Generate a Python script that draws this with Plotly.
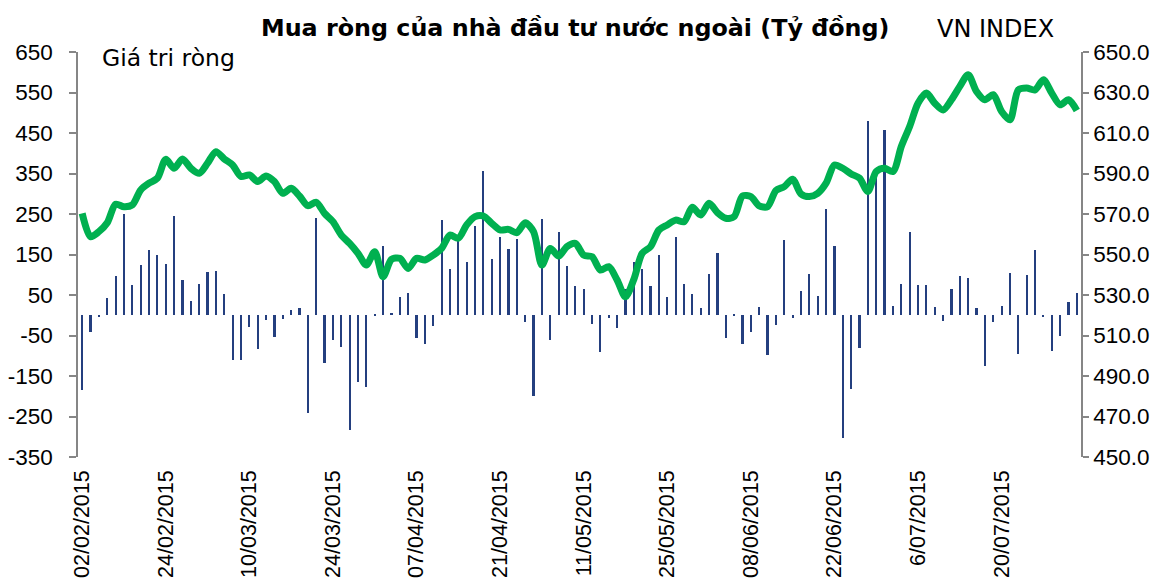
import pandas as pd
import plotly.graph_objects as go

# Trading days Feb 2 - Jul 31, 2015 (category axis)
holidays = ["2015-02-16", "2015-02-17", "2015-02-18", "2015-02-19", "2015-02-20",
            "2015-02-23", "2015-04-27", "2015-04-28", "2015-04-30", "2015-05-01"]
days = pd.bdate_range("2015-02-02", "2015-07-31")
days = [d for d in days if d.strftime("%Y-%m-%d") not in holidays]
categories = [d.strftime("%d/%m/%Y") for d in days]

# Net foreign buying (billion VND)
net_buy = [
    -185, -42, -3, 43, 97, 250, 75, 124, 160, 149,
    127, 246, 87, 36, 77, 108, 110, 52, -111, -111,
    -30, -84, -12, -53, -10, 13, 19, -241, 240, -119,
    -61, -78, -284, -166, -178, 2, 172, 6, 44, 54,
    -55, -70, -27, 234, 113, 184, 132, 221, 357, 139,
    194, 164, 188, -16, -200, 237, -60, 205, 122, 73,
    64, -22, -90, -8, -31, 66, 132, 113, 72, 149,
    46, 194, 77, 52, 19, 103, 153, -55, 3, -72,
    -42, 21, -97, -23, 186, -8, 60, 102, 48, 263,
    170, -302, -181, -80, 479, 345, 458, 23, 76, 205,
    75, 75, 21, -13, 65, 97, 91, 19, -125, -16,
    24, 105, -96, 99, 161, -4, -89, -50, 33, 56,
]

# VN-Index
vn_index = [
    570.3, 558.8, 561.3, 565.7, 574.8, 573.6, 574.5, 581.9, 585.2, 587.7,
    597.0, 592.6, 597.2, 592.6, 590.1, 595.1, 600.8, 597.2, 594.2, 588.5,
    589.3, 586.0, 588.8, 586.0, 580.2, 582.7, 578.9, 574.1, 575.8, 570.3,
    566.2, 559.6, 555.5, 550.6, 544.8, 551.4, 539.0, 547.6, 548.1, 543.1,
    548.1, 547.3, 549.7, 553.0, 559.6, 558.0, 564.6, 568.7, 569.0, 565.4,
    562.1, 562.4, 560.8, 565.7, 561.3, 544.8, 553.0, 549.2, 553.9, 555.5,
    549.7, 548.9, 542.3, 544.0, 537.4, 529.1, 537.7, 550.6, 553.9, 562.1,
    564.6, 567.0, 566.2, 573.3, 569.5, 575.3, 570.7, 567.9, 568.7, 578.9,
    578.6, 574.0, 573.6, 581.6, 583.5, 587.2, 579.9, 578.6, 580.2, 585.2,
    594.2, 592.6, 589.8, 587.7, 581.1, 591.0, 592.6, 591.0, 603.3, 613.2,
    624.7, 629.7, 624.7, 621.4, 626.4, 633.0, 638.8, 630.5, 626.4, 628.9,
    620.6, 616.5, 631.3, 632.2, 631.3, 636.3, 629.7, 623.9, 626.4, 621.1,
]

tick_positions = [0, 10, 20, 30, 40, 50, 60, 70, 80, 90, 100, 110]
tick_labels = ["02/02/2015", "24/02/2015", "10/03/2015", "24/03/2015", "07/04/2015",
               "21/04/2015", "11/05/2015", "25/05/2015", "08/06/2015", "22/06/2015",
               "6/07/2015", "20/07/2015"]

left_ticks = list(range(-350, 651, 100))
left_tick_text = [str(v) for v in left_ticks]
right_ticks = list(range(450, 651, 20))
right_tick_text = [f"{v:.1f}" for v in right_ticks]

FONT = "Liberation Sans"
TFONT = "DejaVu Sans"
AXIS_COLOR = "#868686"

fig = go.Figure()
fig.add_trace(go.Bar(
    x=categories, y=net_buy, width=0.26,
    marker=dict(color="#243F7F", line=dict(width=0)),
    yaxis="y", showlegend=False,
))
fig.add_trace(go.Scatter(
    x=categories, y=vn_index, mode="lines",
    line=dict(color="#00B050", width=7, shape="spline", smoothing=0.8),
    yaxis="y2", showlegend=False,
))

fig.update_layout(
    width=1160, height=573,
    margin=dict(l=70, r=87, t=44, b=124, autoexpand=False),
    paper_bgcolor="white", plot_bgcolor="white",
    font=dict(family=FONT, size=22, color="black"),
    bargap=0,
    xaxis=dict(
        type="category", categoryorder="array", categoryarray=categories,
        range=[-0.5, len(categories) - 0.5],
        tickmode="array",
        tickvals=[categories[i] for i in tick_positions],
        ticktext=tick_labels, tickangle=-90,
        showline=False, showgrid=False, zeroline=False, ticks="",
        tickfont=dict(family=FONT, size=21.5), automargin=False,
        ticklabelstandoff=8,
    ),
    yaxis=dict(
        range=[-350, 650], tickmode="array", tickvals=left_ticks, ticktext=left_tick_text,
        showline=True, linecolor=AXIS_COLOR, linewidth=1.5,
        ticks="outside", ticklen=7, tickcolor=AXIS_COLOR, tickwidth=1.5,
        showgrid=False, zeroline=False,
        tickfont=dict(family=FONT, size=22.5), automargin=False,
        ticklabelstandoff=12,
    ),
    yaxis2=dict(
        range=[450, 650], tickmode="array", tickvals=right_ticks, ticktext=right_tick_text,
        overlaying="y", side="right",
        showline=True, linecolor=AXIS_COLOR, linewidth=1.5,
        ticks="outside", ticklen=6, tickcolor=AXIS_COLOR, tickwidth=1.5,
        showgrid=False, zeroline=False,
        tickfont=dict(family=FONT, size=22.5), automargin=False,
        ticklabelstandoff=0,
    ),
    annotations=[
        dict(text="<b>Mua ròng của nhà đầu tư nước ngoài (Tỷ đồng)</b>",
             xref="paper", yref="paper", x=0.4955, y=1.0, yshift=24,
             xanchor="center", yanchor="middle", showarrow=False,
             font=dict(family=TFONT, size=23.8)),
        dict(text="VN INDEX", xref="paper", yref="paper", x=0.915, y=1.0, yshift=23,
             xanchor="center", yanchor="middle", showarrow=False,
             font=dict(family=TFONT, size=24)),
        dict(text="Giá tri ròng", xref="paper", yref="paper", x=0.0907, y=1.0, yshift=-6,
             xanchor="center", yanchor="middle", showarrow=False,
             font=dict(family=TFONT, size=23.5)),
    ],
)

fig.write_html("out.html")
